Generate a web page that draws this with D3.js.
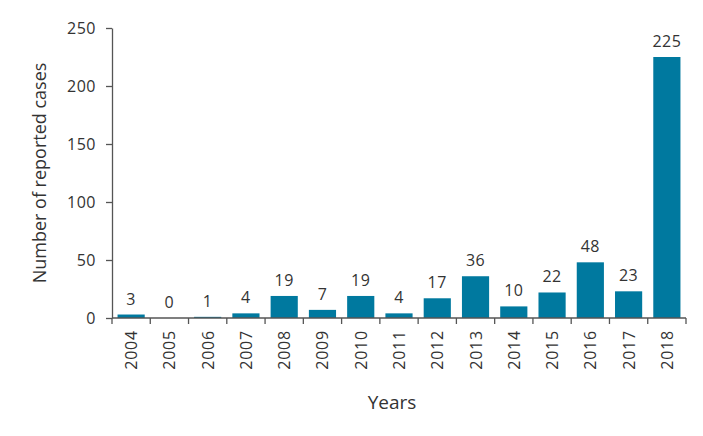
<!DOCTYPE html>
<html>
<head>
<meta charset="utf-8">
<script src="https://cdn.jsdelivr.net/npm/d3@7"></script>
<style>
  body { margin: 0; background: #fff; }
  text { font-family: "Open Sans", "Noto Sans", sans-serif; fill: #333; }
</style>
</head>
<body>
<div id="chart"></div>
<script>
// data
var years = ["2004","2005","2006","2007","2008","2009","2010","2011","2012","2013","2014","2015","2016","2017","2018"];
var cases = [3, 0, 1, 4, 19, 7, 19, 4, 17, 36, 10, 22, 48, 23, 225];
var yTicks = [0, 50, 100, 150, 200, 250];

var margin = {top: 28, right: 17, bottom: 118, left: 112},
    width = 703 - margin.left - margin.right,
    height = 436 - margin.top - margin.bottom;

var svg = d3.select("#chart")
  .append("svg")
    .attr("width", 703)
    .attr("height", 436)
  .append("g")
    .attr("transform", "translate(" + margin.left + "," + margin.top + ")");

var x = d3.scaleBand()
    .domain(years)
    .range([0, width])
    .paddingInner(0.29)
    .paddingOuter(0.145);

var y = d3.scaleLinear()
    .domain([0, 250])
    .range([height, 0]);

// bars
svg.selectAll("rect")
  .data(years)
  .enter().append("rect")
    .attr("x", function(d) { return x(d); })
    .attr("y", function(d, i) { return y(cases[i]); })
    .attr("width", x.bandwidth())
    .attr("height", function(d, i) { return height - y(cases[i]); })
    .attr("fill", "#00799f");

// value labels
svg.selectAll(".val")
  .data(years)
  .enter().append("text")
    .attr("class", "val")
    .attr("x", function(d) { return x(d) + x.bandwidth() / 2; })
    .attr("y", function(d, i) { return y(cases[i]) - 10; })
    .attr("text-anchor", "middle")
    .style("font-size", "16px")
    .style("letter-spacing", "0.5px")
    .text(function(d, i) { return cases[i]; });

// y axis
var yAxis = svg.append("g")
    .call(d3.axisLeft(y).tickValues(yTicks).tickSize(6).tickSizeOuter(0).tickPadding(10));
yAxis.selectAll("text").style("font-size", "16px").style("letter-spacing", "0.5px");
yAxis.selectAll("line, path").attr("stroke", "#555").attr("stroke-width", 1.3);

// x axis, ticks at category edges
var xAxis = svg.append("g")
    .attr("transform", "translate(0," + height + ")");
xAxis.append("line")
    .attr("x1", 0).attr("x2", width)
    .attr("stroke", "#555").attr("stroke-width", 1.3);
var edges = years.map(function(d) { return x(d) - x.step() * x.paddingInner() / 2; });
edges.push(width);
xAxis.selectAll(".edge")
  .data(edges)
  .enter().append("line")
    .attr("x1", function(d) { return d; })
    .attr("x2", function(d) { return d; })
    .attr("y1", 0).attr("y2", 6)
    .attr("stroke", "#555").attr("stroke-width", 1.3);
xAxis.selectAll(".lab")
  .data(years)
  .enter().append("text")
    .attr("transform", function(d) {
      return "translate(" + (x(d) + x.bandwidth() / 2 + 6) + ",12) rotate(-90)";
    })
    .attr("text-anchor", "end")
    .style("font-size", "16px")
    .style("letter-spacing", "0.8px")
    .text(function(d) { return d; });

// axis titles
svg.append("text")
    .attr("x", width / 2 - 7)
    .attr("y", height + 91)
    .attr("text-anchor", "middle")
    .style("font-size", "19px")
    .text("Years");

svg.append("text")
    .attr("transform", "translate(" + (-66) + "," + (height / 2) + ") rotate(-90)")
    .attr("text-anchor", "middle")
    .style("font-size", "18px")
    .text("Number of reported cases");
</script>
</body>
</html>
